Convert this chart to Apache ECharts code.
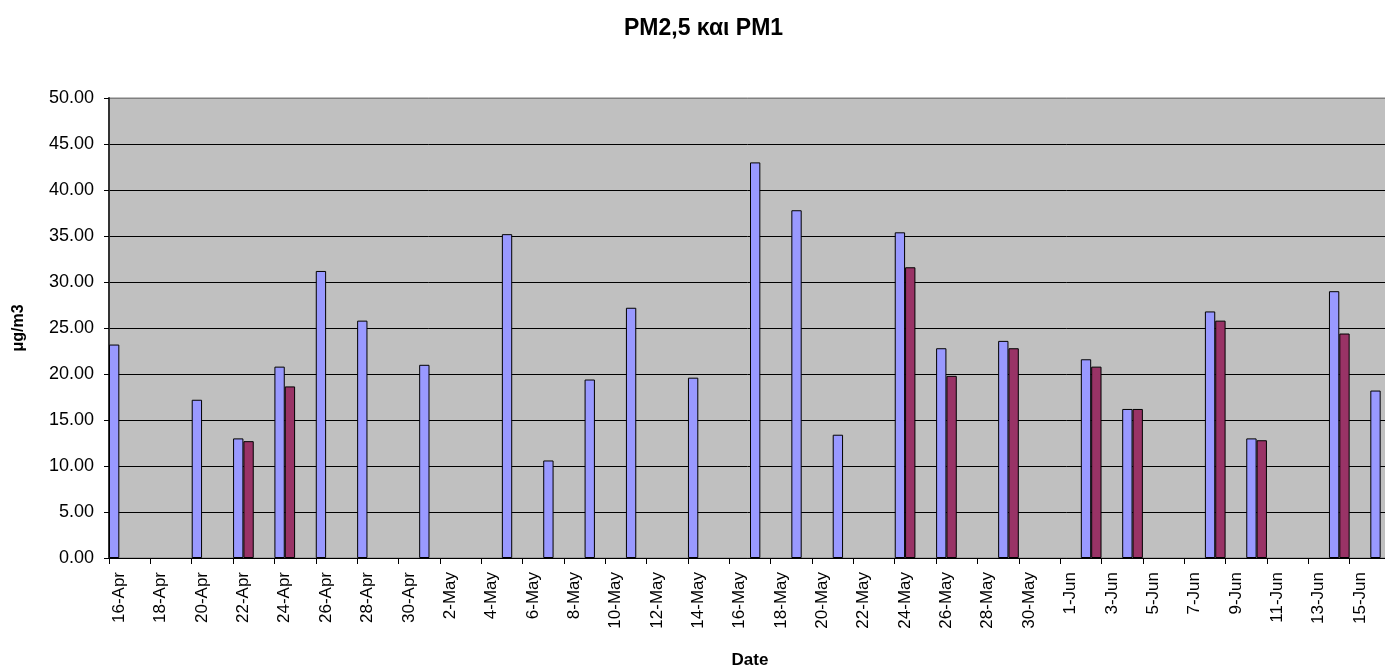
<!DOCTYPE html>
<html>
<head>
<meta charset="utf-8">
<title>PM2,5 και PM1</title>
<script src="https://cdn.jsdelivr.net/npm/echarts@6/dist/echarts.min.js"></script>
<style>
  html, body { margin: 0; padding: 0; background: #ffffff; }
  #chart { width: 1385px; height: 671px; }
</style>
</head>
<body>
<div id="chart"></div>
<script>
// Daily sampling days, 16 April to 16 June
const dates = [
  '16-Apr','17-Apr','18-Apr','19-Apr','20-Apr','21-Apr','22-Apr','23-Apr','24-Apr','25-Apr',
  '26-Apr','27-Apr','28-Apr','29-Apr','30-Apr',
  '1-May','2-May','3-May','4-May','5-May','6-May','7-May','8-May','9-May','10-May',
  '11-May','12-May','13-May','14-May','15-May','16-May','17-May','18-May','19-May','20-May',
  '21-May','22-May','23-May','24-May','25-May','26-May','27-May','28-May','29-May','30-May','31-May',
  '1-Jun','2-Jun','3-Jun','4-Jun','5-Jun','6-Jun','7-Jun','8-Jun','9-Jun','10-Jun',
  '11-Jun','12-Jun','13-Jun','14-Jun','15-Jun','16-Jun'
];

// PM2,5 concentration (μg/m3); null = no measurement
const pm25 = [
  23.2, null, null, null, 17.2, null, 13.0, null, 20.8, null,
  31.2, null, 25.8, null, null,
  21.0, null, null, null, 35.2, null, 10.6, null, 19.4, null,
  27.2, null, null, 19.6, null, null, 43.0, null, 37.8, null,
  13.4, null, null, 35.4, null, 22.8, null, null, 23.6, null, null,
  null, 21.6, null, 16.2, null, null, null, 26.8, null, 13.0,
  null, null, null, 29.0, null, 18.2
];

// PM1 concentration (μg/m3); null = no measurement
const pm1 = [
  null, null, null, null, null, null, 12.7, null, 18.65, null,
  null, null, null, null, null,
  null, null, null, null, null, null, null, null, null, null,
  null, null, null, null, null, null, null, null, null, null,
  null, null, null, 31.6, null, 19.8, null, null, 22.8, null, null,
  null, 20.8, null, 16.2, null, null, null, 25.8, null, 12.8,
  null, null, null, 24.4, null, null
];

const seriesNames = ['PM2,5', 'PM1'];

const chart = echarts.init(document.getElementById('chart'), null, { renderer: 'canvas' });

const FONT = '"Liberation Sans", Arial, sans-serif';

// black gridlines, grey frame line at the top of the value range
const splitColors = ['#000000','#000000','#000000','#000000','#000000','#000000',
                     '#000000','#000000','#000000','#000000','#808080'];

chart.setOption({
  animation: false,
  backgroundColor: '#ffffff',
  title: {
    text: 'PM2,5 και PM1',
    left: 619,
    top: 12,
    textStyle: { fontFamily: FONT, fontSize: 23, fontWeight: 'bold', color: '#000000' }
  },
  grid: {
    left: 109,
    right: -6,
    top: 98,
    bottom: 113,
    outerBoundsMode: 'none',
    containLabel: false,
    show: true,
    backgroundColor: '#C0C0C0',
    borderColor: '#808080',
    borderWidth: 1
  },
  xAxis: {
    type: 'category',
    data: dates,
    boundaryGap: true,
    name: 'Date',
    nameLocation: 'middle',
    nameGap: 94,
    nameTextStyle: { fontFamily: FONT, fontSize: 17, fontWeight: 'bold', color: '#000000' },
    axisLine: { show: true, lineStyle: { color: '#000000', width: 1 } },
    axisTick: { show: true, interval: 1, alignWithLabel: false, length: 6, lineStyle: { color: '#000000' } },
    axisLabel: {
      interval: 1,
      rotate: 90,
      margin: 14,
      fontFamily: FONT,
      fontSize: 17,
      color: '#000000'
    },
    splitLine: { show: false }
  },
  yAxis: {
    type: 'value',
    min: 0,
    max: 50,
    interval: 5,
    name: 'μg/m3',
    nameLocation: 'middle',
    nameGap: 82,
    nameTextStyle: { fontFamily: FONT, fontSize: 16, fontWeight: 'bold', color: '#000000' },
    axisLine: { show: true, lineStyle: { color: '#333333', width: 2 } },
    axisTick: { show: true, length: 5, lineStyle: { color: '#000000' } },
    axisLabel: {
      margin: 15,
      fontFamily: FONT,
      fontSize: 18,
      color: '#000000',
      formatter: v => v.toFixed(2)
    },
    splitLine: { show: true, lineStyle: { color: splitColors, width: 1 } }
  },
  series: [
    {
      name: seriesNames[0],
      type: 'bar',
      data: pm25,
      barGap: '0%',
      barCategoryGap: '0%',
      itemStyle: { color: '#9999FF', borderColor: '#000000', borderWidth: 1 }
    },
    {
      name: seriesNames[1],
      type: 'bar',
      data: pm1,
      barGap: '0%',
      barCategoryGap: '0%',
      itemStyle: { color: '#993366', borderColor: '#000000', borderWidth: 1 }
    }
  ]
});
</script>
</body>
</html>
